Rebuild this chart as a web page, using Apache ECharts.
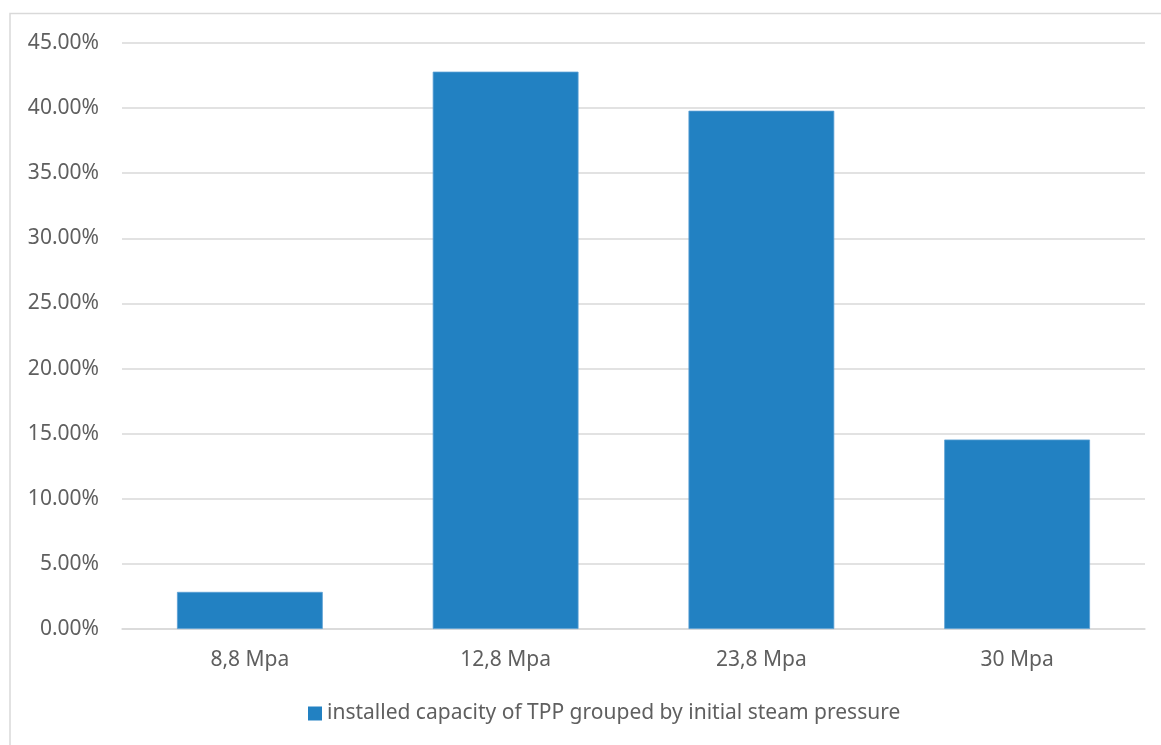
<!DOCTYPE html>
<html>
<head>
<meta charset="utf-8">
<script src="https://cdn.jsdelivr.net/npm/echarts@6/dist/echarts.min.js"></script>
<style>
  html, body { margin: 0; padding: 0; background: #ffffff; }
  #chart { width: 1161px; height: 745px; }
</style>
</head>
<body>
<div id="chart"></div>
<script>
// Share of installed TPP capacity by initial steam pressure (fractions of 1)
const categories = ['8,8 Mpa', '12,8 Mpa', '23,8 Mpa', '30 Mpa'];
const capacityShare = [0.0285, 0.428, 0.398, 0.1455];
const seriesName = 'installed capacity of TPP grouped by initial steam pressure';
const yTicks = { min: 0, max: 0.45, interval: 0.05 };

const textColor = '#5f5f5f';
const gridColor = '#d9d9d9';
const barColor = '#2281c2';
const fontFamily = '"Noto Sans", "Open Sans", sans-serif';

const chart = echarts.init(document.getElementById('chart'), null, { renderer: 'canvas' });

chart.setOption({
  animation: false,
  backgroundColor: '#ffffff',
  textStyle: { fontFamily: fontFamily },
  graphic: [{
    type: 'rect',
    shape: { x: 10, y: 13.5, width: 1300, height: 900 },
    style: { fill: 'none', stroke: gridColor, lineWidth: 1.5 },
    silent: true,
    z: -10
  }],
  grid: { left: 122, right: 16, top: 43, bottom: 116, containLabel: false },
  legend: {
    data: [seriesName],
    bottom: 16,
    left: 303,
    icon: 'rect',
    itemWidth: 14,
    itemHeight: 14,
    itemGap: 6,
    itemStyle: { borderWidth: 0 },
    textStyle: { color: textColor, fontSize: 21, fontFamily: fontFamily }
  },
  xAxis: {
    type: 'category',
    data: categories,
    axisLine: { show: true, lineStyle: { color: gridColor, width: 1.5 } },
    axisTick: { show: false },
    axisLabel: { color: textColor, fontSize: 21, margin: 21, fontFamily: fontFamily },
    splitLine: { show: false }
  },
  yAxis: {
    type: 'value',
    min: yTicks.min,
    max: yTicks.max,
    interval: yTicks.interval,
    axisLine: { show: false },
    axisTick: { show: false },
    axisLabel: {
      color: textColor,
      fontSize: 21,
      margin: 23,
      fontFamily: fontFamily,
      formatter: v => (v * 100).toFixed(2) + '%'
    },
    splitLine: { lineStyle: { color: gridColor, width: 1.5 } }
  },
  series: [{
    name: seriesName,
    type: 'bar',
    data: capacityShare,
    barWidth: '57%',
    itemStyle: { color: barColor, borderColor: '#5aa0d4', borderWidth: 0.8 }
  }]
});
</script>
</body>
</html>
